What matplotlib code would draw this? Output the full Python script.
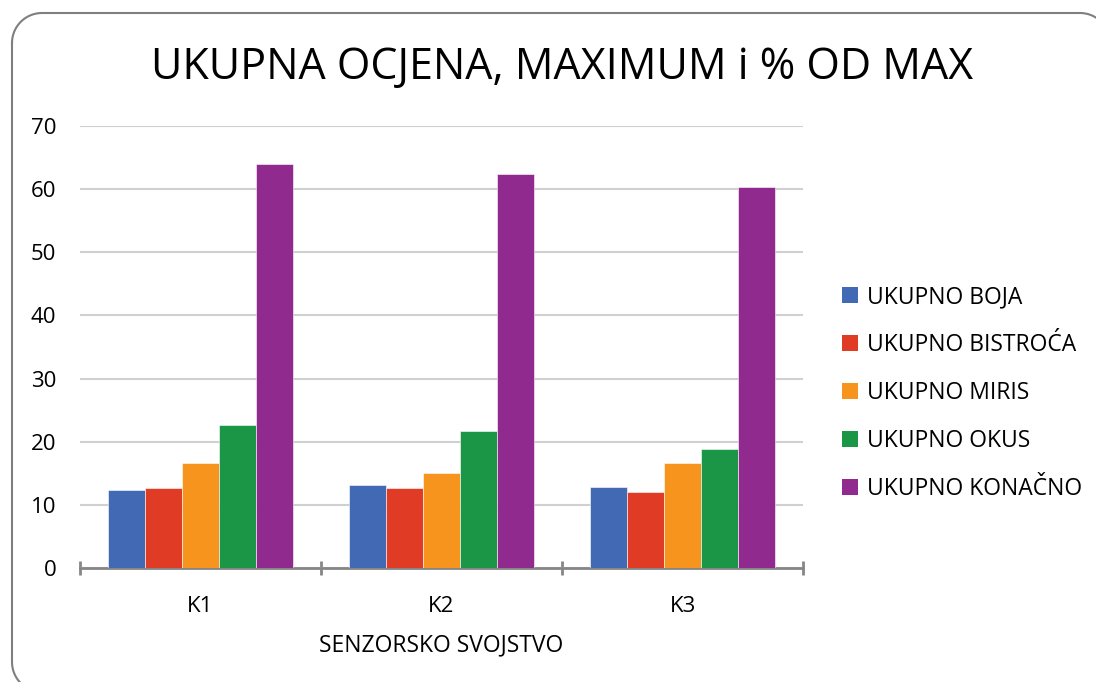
import numpy as np
import matplotlib.pyplot as plt
from matplotlib.patches import Patch

plt.rcParams['font.family'] = ['Open Sans', 'DejaVu Sans']

# Data
categories = ['K1', 'K2', 'K3']
series_names = ['UKUPNO BOJA', 'UKUPNO BISTROĆA', 'UKUPNO MIRIS', 'UKUPNO OKUS', 'UKUPNO KONAČNO']
boja = [12.3, 13.2, 12.9]
bistroca = [12.6, 12.6, 12.0]
miris = [16.6, 15.0, 16.6]
okus = [22.6, 21.7, 18.9]
konacno = [64.0, 62.4, 60.3]
colors = ['#4169b4', '#e03b24', '#f7941d', '#1a9646', '#912a8e']

W, H = 1096, 682
fig = plt.figure(figsize=(W / 100, H / 100), dpi=100)

# rounded chart border, drawn in pixel units on a background axes
bg = fig.add_axes([0, 0, 1, 1])
bg.set_xlim(0, W)
bg.set_ylim(H, 0)
bg.axis('off')
x0, y0, x1, y1, r = 12, 13, 1110, 692, 30
t = np.linspace(0, np.pi / 2, 20)
bx = np.concatenate([x0 + r - r * np.cos(t), x1 - r + r * np.sin(t),
                     x1 - r + r * np.cos(t), x0 + r - r * np.sin(t), [x0]])
by = np.concatenate([y0 + r - r * np.sin(t), y0 + r - r * np.cos(t),
                     y1 - r + r * np.sin(t), y1 - r + r * np.cos(t), [y0 + r]])
bg.plot(bx, by, color='#7f7f7f', linewidth=1.5)

ax = fig.add_axes([80 / W, 1 - 568 / H, (803 - 80) / W, (568 - 126) / H])

values = [boja, bistroca, miris, okus, konacno]
x = np.arange(len(categories))
bw = 0.153
for i, (vals, col) in enumerate(zip(values, colors)):
    ax.bar(x + (i - 2) * bw, vals, bw, color=col, edgecolor='white', linewidth=0.4, zorder=3)

ax.set_xlim(-0.5, 2.5)
ax.set_ylim(0, 70)
ax.set_yticks(range(0, 71, 10))
ax.set_xticks(x)
ax.set_xticklabels(categories)
ax.yaxis.grid(True, color='#d0d0d0', linewidth=1.5, zorder=0)
ax.tick_params(axis='y', length=0, pad=17, labelsize=16)
ax.tick_params(axis='x', length=0, pad=20, labelsize=16)
for s in ['left', 'right', 'top']:
    ax.spines[s].set_visible(False)
ax.spines['bottom'].set_color('#868686')
ax.spines['bottom'].set_linewidth(2)
# category boundary ticks
ax.set_xticks([-0.5, 0.5, 1.5, 2.5], minor=True)
ax.tick_params(axis='x', which='minor', length=10, width=2, color='#868686', direction='inout')

ax.set_xlabel('SENZORSKO SVOJSTVO', fontsize=16.5, labelpad=12)
fig.text(562 / W, 1 - 68 / H, 'UKUPNA OCJENA, MAXIMUM i % OD MAX',
         ha='center', va='center', fontsize=31)

handles = [Patch(facecolor=c, edgecolor='none') for c in colors]
fig.legend(handles, series_names, loc='center left', bbox_to_anchor=(842 / W, 1 - 393 / H),
           frameon=False, fontsize=16.5, handlelength=0.7, handleheight=0.7,
           handletextpad=0.4, labelspacing=1.05, borderaxespad=0, borderpad=0)

fig.savefig('out.png', dpi=100)
